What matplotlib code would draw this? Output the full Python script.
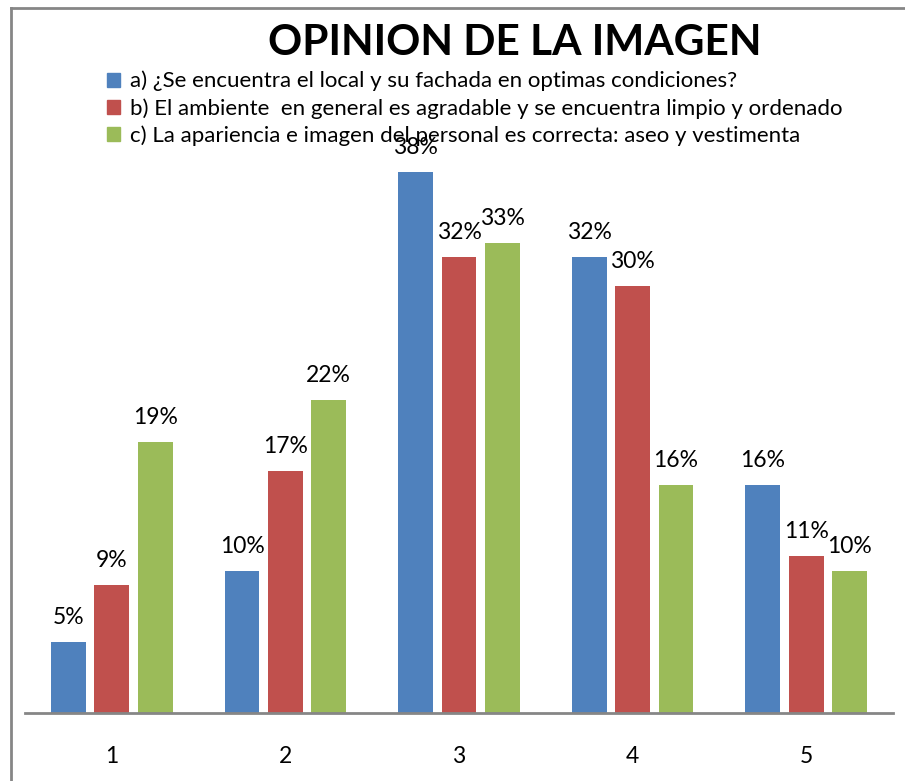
import matplotlib
matplotlib.use("Agg")
import matplotlib.pyplot as plt
from matplotlib.lines import Line2D
import numpy as np

categories = ["1", "2", "3", "4", "5"]
series_names = [
    "a) ¿Se encuentra el local y su fachada en optimas condiciones?",
    "b) El ambiente  en general es agradable y se encuentra limpio y ordenado",
    "c) La apariencia e imagen del personal es correcta: aseo y vestimenta",
]
values_a = [5, 10, 38, 32, 16]
values_b = [9, 17, 32, 30, 11]
values_c = [19, 22, 33, 16, 10]
colors = ["#4F81BD", "#C0504D", "#9BBB59"]

plt.rcParams['font.family'] = ['Lato', 'DejaVu Sans']

W, H = 905, 781
fig = plt.figure(figsize=(W / 100, H / 100), dpi=100)
ax = fig.add_axes([25 / W, (H - 713) / H, (893 - 25) / W, 570 / H])

x = np.arange(len(categories))
width = 0.2
step = 0.25
for i, (vals, col, name) in enumerate(zip([values_a, values_b, values_c], colors, series_names)):
    pos = x + (i - 1) * step
    ax.bar(pos, vals, width, color=col, label=name, zorder=2)
    for p, v in zip(pos, vals):
        ax.annotate(f"{v}%", (p, v), xytext=(0, 10), textcoords="offset points",
                    ha="center", va="bottom", fontsize=16.5, color="black", zorder=1)

ax.set_xlim(-0.5, len(categories) - 0.5)
ax.set_ylim(0, 40)
ax.set_xticks(x)
ax.set_xticklabels(categories, fontsize=16.5)
ax.tick_params(axis='x', length=0, pad=24)
ax.set_yticks([])
for s in ["top", "right", "left"]:
    ax.spines[s].set_visible(False)
ax.spines["bottom"].set_color("#868686")
ax.spines["bottom"].set_linewidth(2)

fig.text(515 / W, 1 - 43 / H, "OPINION DE LA IMAGEN", ha="center", va="center",
         fontsize=30.5, fontweight="bold", color="black")

handles = [plt.Rectangle((0, 0), 1, 1, color=c) for c in colors]
fig.legend(handles, series_names, loc="upper left",
           bbox_to_anchor=(98 / W, 1 - 62 / H), frameon=False,
           fontsize=16, handlelength=0.6, handleheight=0.6,
           handletextpad=0.45, labelspacing=0.3, borderaxespad=0)

fig.add_artist(Line2D([11 / W, 11 / W], [0, 1 - 8 / H], transform=fig.transFigure,
                      color="#868686", linewidth=2))
fig.add_artist(Line2D([11 / W, 1], [1 - 8 / H, 1 - 8 / H], transform=fig.transFigure,
                      color="#868686", linewidth=2))

fig.savefig("out.png", dpi=100)
